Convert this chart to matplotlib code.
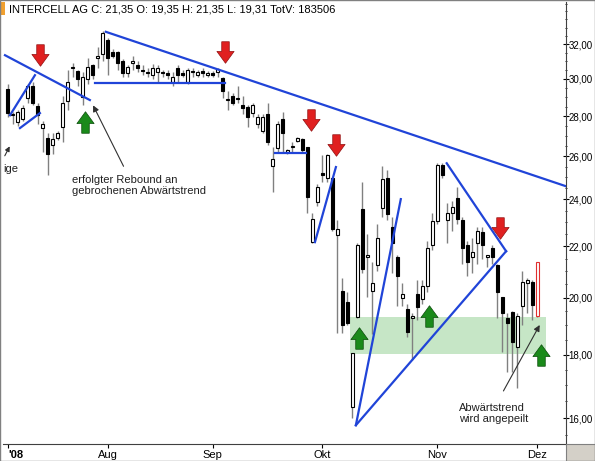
import matplotlib
matplotlib.use("Agg")
import matplotlib.pyplot as plt
from matplotlib.path import Path
from matplotlib.ticker import FixedLocator, NullFormatter, FuncFormatter
from matplotlib.patches import Rectangle
import numpy as np
import pandas as pd

plt.rcParams['font.family'] = ['Liberation Sans', 'DejaVu Sans']

opens = [29.47,28.04,27.69,27.85,28.96,29.6,28.53,27.38,26.9,26.55,26.9,27.44,28.78,30.64,30.44,29.03,29.98,30.77,31.18,31.44,
         32.26,31.51,31.51,31.04,30.31,30.9,30.77,30.51,30.37,30.24,30.37,30.37,30.31,29.85,30.64,30.31,29.85,30.44,30.24,30.44,
         30.24,30.31,30.37,30.05,28.84,29.09,28.96,28.59,28.47,28.16,27.61,27.26,28.1,25.54,26.38,27.85,26.22,26.44,26.73,26.84,
         26.44,22.18,23.88,25.21,24.99,24.99,22.47,20.26,19.83,16.34,19.29,23.57,21.57,20.26,21.24,23.62,24.99,22.82,21.57,20.0,
         19.6,19.27,20.13,19.95,20.43,22.04,23.06,25.6,23.11,23.41,24.04,23.11,22.04,21.57,22.13,22.57,21.57,21.95,21.24,20.04,
         19.26,19.47,18.25,19.69,20.56,20.61,19.35]
closes = [28.16,28.1,28.22,28.41,29.6,28.71,28.06,27.61,26.1,26.84,27.14,28.71,29.85,30.64,29.98,30.11,30.7,30.24,31.31,32.64,
          31.18,31.31,30.9,30.31,30.7,31.04,30.64,30.44,30.31,30.64,30.64,30.31,30.24,30.11,30.24,30.24,30.51,30.37,30.37,30.31,
          30.31,30.24,30.57,29.34,28.84,28.71,28.9,28.41,27.98,28.59,27.98,27.98,26.67,25.87,27.61,27.14,26.22,26.44,26.9,26.28,
          24.09,23.16,24.57,25.1,26.04,22.72,22.72,19.01,19.1,18.05,22.04,21.1,21.57,20.56,22.33,24.94,23.36,22.13,20.83,20.13,
          18.77,19.27,19.65,20.43,21.95,23.06,25.6,25.1,23.41,23.67,23.16,21.95,21.38,21.76,22.62,22.04,21.57,21.57,20.21,19.43,
          19.1,18.41,19.35,20.61,20.65,19.72,21.35]
highs = [29.72,28.22,28.34,28.59,29.72,29.85,28.71,27.73,27.14,27.14,27.26,29.09,30.51,30.9,30.51,30.37,31.18,30.84,31.86,32.77,
         32.39,31.72,31.58,31.11,30.77,31.31,31.04,30.77,30.64,30.84,30.77,30.51,30.51,30.37,30.77,30.51,30.64,30.64,30.51,30.64,
         30.44,30.44,30.64,30.11,29.34,29.22,29.6,29.09,28.59,28.71,28.1,28.1,28.71,26.44,27.73,28.22,26.33,26.67,26.96,26.9,
         26.44,23.41,24.67,26.04,26.1,24.99,23.11,20.74,20.21,18.05,22.13,24.77,22.52,21.38,22.91,25.54,25.32,23.21,21.66,20.56,
         19.77,19.43,20.65,20.65,22.23,23.41,25.65,25.65,23.82,23.93,24.57,23.21,22.23,22.33,22.82,22.82,21.66,22.04,21.29,20.04,
         19.43,19.52,19.43,21.0,20.74,20.65,21.35]
lows = [27.98,27.61,27.49,27.73,28.71,28.59,27.61,26.22,25.1,26.1,26.79,26.67,28.34,30.11,29.6,28.59,29.72,29.98,30.64,31.04,
        30.24,31.18,30.51,30.11,30.11,30.51,30.37,30.24,30.11,29.98,29.85,30.11,29.98,29.6,29.85,30.11,29.72,30.11,30.11,30.11,
        30.11,30.11,30.11,28.96,28.34,28.59,28.71,28.1,27.44,27.98,27.38,27.14,26.55,24.35,26.22,26.22,26.1,26.22,26.67,26.22,
        23.41,22.13,23.72,24.78,24.78,22.62,18.73,18.73,19.02,16.0,19.26,20.92,20.03,18.69,21.0,23.21,23.11,20.92,19.69,19.69,
        18.61,17.82,19.18,19.77,20.21,21.85,22.91,24.99,22.13,22.62,22.91,21.29,20.83,20.92,21.29,21.47,21.19,21.29,19.26,18.1,
        17.44,17.44,16.92,19.02,19.43,19.18,19.31]

month_labels = ["Aug", "Sep", "Okt", "Nov", "Dez"]
y_ticks = [16, 18, 20, 22, 24, 26, 28, 30, 32]

# overlay trend lines (x in trading-day index, y in price)
trend_lines = [
    ([19.6, 111.8], [32.74, 24.59]),
    ([-0.6, 16.4], [31.35, 28.85]),
    ([17.4, 43.5], [29.77, 29.77]),
    ([53.5, 59.7], [26.14, 26.14]),
    ([0.4, 5.4], [28.05, 30.21]),
    ([2.4, 6.4], [27.39, 28.16]),
    ([61.5, 65.7], [22.17, 25.48]),
    ([69.7, 78.7], [15.79, 24.01]),
    ([69.7, 99.8], [15.79, 21.80]),
    ([87.9, 99.8], [25.66, 21.80]),
]
zone_x = [68.5, 107.7]
zone_y = [18.02, 19.29]
red_arrows_x = [6.4, 43.5, 60.7, 65.7, 98.6]
red_arrows_y = [31.35, 31.53, 27.79, 26.53, 22.75]
green_arrows_x = [15.4, 70.3, 84.4, 106.8]
green_arrows_y = [27.7, 18.56, 19.33, 17.98]

n = len(opens)
dates = pd.bdate_range("2008-07-04", periods=n)
idx = np.arange(n)
month_pos = [i for i in range(1, n) if dates[i].month != dates[i - 1].month]

fig = plt.figure(figsize=(5.95, 4.61), dpi=100)
ax = fig.add_axes([3 / 595, 17 / 461, 563 / 595, 442 / 461])
ax.set_yscale("log")
ax.set_ylim(15.25, 34.6)
ax.set_xlim(-1.0, 111.8)

ax.add_patch(Rectangle((zone_x[0], zone_y[0]), zone_x[1] - zone_x[0], zone_y[1] - zone_y[0],
                       facecolor="#c6e6c6", edgecolor="none", zorder=1))

for i in idx:
    o, c, h, l = opens[i], closes[i], highs[i], lows[i]
    last = i == n - 1
    ax.vlines(i, l, h, color="#808080", lw=1, zorder=2)
    lo, hi = min(o, c), max(o, c)
    if hi - lo < 0.05:
        hi = lo + 0.06
    if last:
        fc, ec = "white", "#e03030"
    elif c >= o:
        fc, ec = "white", "black"
    else:
        fc, ec = "black", "black"
    ax.bar(i, hi - lo, bottom=lo, width=0.6, facecolor=fc, edgecolor=ec, lw=0.8, zorder=3)

for xs, ys in trend_lines:
    ax.plot(xs, ys, color="#2044d8", lw=1.6, zorder=4)

down = Path([(-0.35, 1), (0.35, 1), (0.35, 0.1), (0.8, 0.1), (0, -1), (-0.8, 0.1), (-0.35, 0.1), (-0.35, 1)],
            [1, 2, 2, 2, 2, 2, 2, 79])
up = Path([(x, -y) for x, y in down.vertices], down.codes)
ax.scatter(red_arrows_x, red_arrows_y, marker=down, s=240, color="#e02020", edgecolor="#901010", lw=0.5, zorder=5)
ax.scatter(green_arrows_x, green_arrows_y, marker=up, s=240, color="#1a8a1a", edgecolor="#0a4a0a", lw=0.5, zorder=5)

ax.annotate("", xy=(16.8, 28.7), xytext=(23.4, 25.4),
            arrowprops=dict(arrowstyle="-|>", color="#303030", lw=0.8, mutation_scale=9))
ax.text(12.8, 25.1, "erfolgter Rebound an\ngebrochenen Abwärtstrend", fontsize=8, va="top", ha="left",
        color="#202020", linespacing=1.1)
ax.annotate("", xy=(106.8, 19.1), xytext=(99.0, 16.75),
            arrowprops=dict(arrowstyle="-|>", color="#303030", lw=0.8, mutation_scale=9))
ax.text(90.4, 16.45, "Abwärtstrend\nwird angepeilt", fontsize=8, va="top", ha="left", color="#202020",
        linespacing=1.1)
ax.text(-0.9, 25.4, "ige", fontsize=8, va="center", ha="left", color="#202020")
ax.annotate("", xy=(0.6, 26.6), xytext=(-0.9, 25.9),
            arrowprops=dict(arrowstyle="-|>", color="#303030", lw=0.8, mutation_scale=7))

ax.yaxis.tick_right()
ax.yaxis.set_major_locator(FixedLocator(y_ticks))
ax.yaxis.set_minor_locator(FixedLocator(list(np.arange(15.5, 34.6, 0.5))))
ax.yaxis.set_major_formatter(FuncFormatter(lambda v, p: f"{v:.2f}".replace(".", ",")))
ax.yaxis.set_minor_formatter(NullFormatter())
ax.tick_params(axis="y", which="major", length=4, labelsize=7, pad=0, direction="inout")
ax.tick_params(axis="y", which="minor", length=2, direction="inout")

ax.set_xticks([0] + month_pos)
ax.set_xticklabels(["'08"] + month_labels[:len(month_pos)], fontsize=8)
ax.get_xticklabels()[0].set_fontweight("bold")
ax.get_xticklabels()[0].set_horizontalalignment("left")
ax.tick_params(axis="x", length=3, pad=1)
ax.set_xticks([], minor=True)

for s in ["top", "left"]:
    ax.spines[s].set_visible(False)
ax.spines["right"].set_color("#404040")
ax.spines["bottom"].set_color("#404040")

fig.text(9 / 595, 1 - 10 / 461, "INTERCELL AG C: 21,35 O: 19,35 H: 21,35 L: 19,31 TotV: 183506",
         fontsize=8, va="center", ha="left")
fig.patches.append(Rectangle((1 / 595, 1 - 15 / 461), 4 / 595, 13 / 461, transform=fig.transFigure,
                             facecolor="#f0a030", edgecolor="none"))
fig.patches.append(Rectangle((566 / 595, 0), 29 / 595, 17 / 461, transform=fig.transFigure,
                             facecolor="#d4d0c8", edgecolor="#808080", lw=0.8))
fig.patches.append(Rectangle((0, 0), 1, 1, transform=fig.transFigure, facecolor="none",
                             edgecolor="#808080", lw=1))

fig.savefig("out.png", dpi=100)
